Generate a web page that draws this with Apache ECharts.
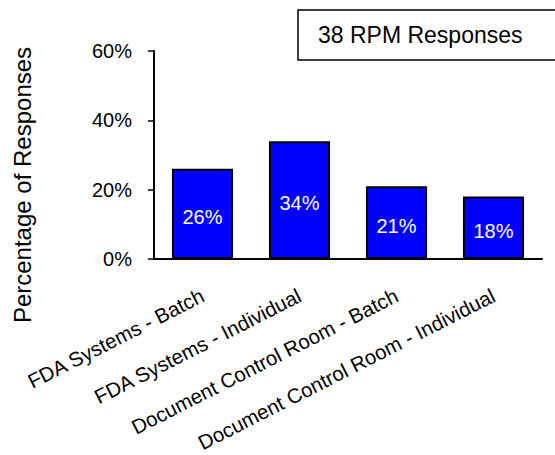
<!DOCTYPE html>
<html>
<head>
<meta charset="utf-8">
<script src="https://cdn.jsdelivr.net/npm/echarts@6/dist/echarts.min.js"></script>
<style>
  html, body { margin: 0; padding: 0; background: #fff; }
  #chart { width: 555px; height: 455px; }
</style>
</head>
<body>
<div id="chart"></div>
<script>
// Survey response shares by document channel
const categories = [
  'FDA Systems - Batch',
  'FDA Systems - Individual',
  'Document Control Room - Batch',
  'Document Control Room - Individual'
];
const percentages = [26, 34, 21, 18];
const yTicks = [0, 20, 40, 60];
const boxTitle = '38 RPM Responses';
const yTitle = 'Percentage of Responses';

const FONT = 'Liberation Sans, Arial, sans-serif';

const chart = echarts.init(document.getElementById('chart'), null, { renderer: 'svg' });

chart.setOption({
  animation: false,
  backgroundColor: '#ffffff',
  grid: {
    left: 154, right: 13, top: 51, bottom: 196,
    containLabel: false,
    outerBoundsMode: 'none'
  },
  xAxis: {
    type: 'category',
    data: categories,
    axisLine: { show: true, lineStyle: { color: '#000', width: 2 } },
    axisTick: { show: false },
    axisLabel: {
      interval: 0,
      rotate: 27,
      margin: 35,
      color: '#000',
      fontFamily: FONT,
      fontSize: 20.5,
      lineHeight: 20
    },
    splitLine: { show: false }
  },
  yAxis: {
    type: 'value',
    min: yTicks[0],
    max: yTicks[yTicks.length - 1],
    interval: yTicks[1] - yTicks[0],
    axisLine: { show: true, lineStyle: { color: '#000', width: 2 } },
    axisTick: { show: true, inside: false, length: 6, lineStyle: { color: '#000', width: 1.5 } },
    axisLabel: {
      margin: 22,
      color: '#000',
      fontFamily: FONT,
      fontSize: 20,
      formatter: v => v + '%'
    },
    splitLine: { show: false }
  },
  series: [{
    type: 'bar',
    data: percentages,
    barCategoryGap: '37%',
    itemStyle: { color: '#0000ff', borderColor: '#000', borderWidth: 2 },
    label: {
      show: true,
      position: 'inside',
      offset: [0, 3],
      color: '#fff',
      fontFamily: FONT,
      fontSize: 20,
      formatter: p => p.value + '%'
    }
  }],
  graphic: [
    {
      type: 'rect',
      shape: { x: 298, y: 10, width: 280, height: 50 },
      style: { fill: '#fff', stroke: '#000', lineWidth: 1.5 }
    },
    {
      type: 'text',
      x: 318,
      y: 35,
      style: {
        text: boxTitle,
        fill: '#000',
        font: '23px ' + FONT,
        textAlign: 'left',
        textVerticalAlign: 'middle'
      }
    },
    {
      type: 'text',
      x: 22,
      y: 185,
      rotation: Math.PI / 2,
      style: {
        text: yTitle,
        fill: '#000',
        font: '24px ' + FONT,
        textAlign: 'center',
        textVerticalAlign: 'middle'
      }
    }
  ]
});
</script>
</body>
</html>
